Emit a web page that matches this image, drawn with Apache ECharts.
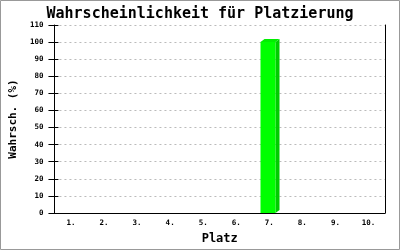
<!DOCTYPE html>
<html><head><meta charset="utf-8">
<script src="https://cdn.jsdelivr.net/npm/echarts@6/dist/echarts.min.js"></script>
<style>html,body{margin:0;padding:0;background:#fff}#c{width:400px;height:250px}</style>
</head><body><div id="c"></div>
<script>
const categories = ['1.','2.','3.','4.','5.','6.','7.','8.','9.','10.'];
const values = [0,0,0,0,0,0,100,0,0,0];
const yTicks = [0,10,20,30,40,50,60,70,80,90,100,110];
const titleText = 'Wahrscheinlichkeit für Platzierung';
const xName = 'Platz';
const yName = 'Wahrsch. (%)';

const mono = 'DejaVu Sans Mono';
const chart = echarts.init(document.getElementById('c'), null, {renderer:'canvas'});
chart.setOption({
  animation:false,
  backgroundColor:'#fff',
  title:{text:titleText,left:'center',top:2,textStyle:{fontFamily:mono,fontWeight:'bold',fontSize:15,color:'#000'}},
  grid:{left:49,right:15,top:25,bottom:36,containLabel:false},
  xAxis:{type:'category',data:categories,
    axisLine:{lineStyle:{color:'#000',width:1}},axisTick:{show:false},
    axisLabel:{fontFamily:mono,fontSize:7.5,fontWeight:'bold',color:'#000',margin:6},
    name:xName,nameLocation:'middle',nameGap:20,
    nameTextStyle:{fontFamily:mono,fontWeight:'bold',fontSize:12,color:'#000'}},
  yAxis:[{type:'value',min:yTicks[0],max:yTicks[yTicks.length-1],interval:10,
    axisLine:{show:true,lineStyle:{color:'#000'}},
    axisTick:{show:true,length:6,lineStyle:{color:'#000'}},
    axisLabel:{fontFamily:mono,fontSize:7.5,fontWeight:'bold',color:'#000',margin:11},
    splitLine:{show:true,lineStyle:{color:'#bbb',type:[2,3],width:1}},
    name:yName,nameLocation:'middle',nameGap:34,nameRotate:90,
    nameTextStyle:{fontFamily:mono,fontWeight:'bold',fontSize:11,color:'#000'}},
   {type:'value',min:yTicks[0],max:yTicks[yTicks.length-1],interval:10,position:'left',
    axisLine:{show:false},axisTick:{show:true,inside:true,length:4,lineStyle:{color:'#000'}},
    axisLabel:{show:false},splitLine:{show:false}},
   {type:'value',min:yTicks[0],max:yTicks[yTicks.length-1],interval:10,position:'right',
    axisLine:{show:true,lineStyle:{color:'#000'}},axisTick:{show:false},
    axisLabel:{show:false},splitLine:{show:false}}],
  graphic:[{type:'rect',shape:{x:0.5,y:0.5,width:399,height:249},style:{fill:null,stroke:'#999',lineWidth:1},silent:true}],
  series:[{type:'custom',data:values.map((v,i)=>[i,v]),
    renderItem:function(params,api){
      const v=api.value(1);
      if(!v) return null;
      const top=api.coord([api.value(0),v]);
      const bot=api.coord([api.value(0),0]);
      const bw=api.size([1,0])[0];
      const w=Math.round(bw*0.45);
      const xl=Math.round(top[0]-w/2)-1.5, xr=xl+w;
      const yt=top[1], yb=bot[1];
      const d=4, h=3;
      return {type:'group',children:[
        {type:'polygon',shape:{points:[[xr,yt],[xr+d,yt-h],[xr+d,yb-h],[xr,yb]]},style:{fill:'#00cc00'}},
        {type:'polygon',shape:{points:[[xl,yt],[xl+d,yt-h],[xr+d,yt-h],[xr,yt]]},style:{fill:'#00ee00'}},
        {type:'rect',shape:{x:xl,y:yt,width:w,height:yb-yt},style:{fill:'#00ff00'}}
      ]};
    }}]
});
</script></body></html>
